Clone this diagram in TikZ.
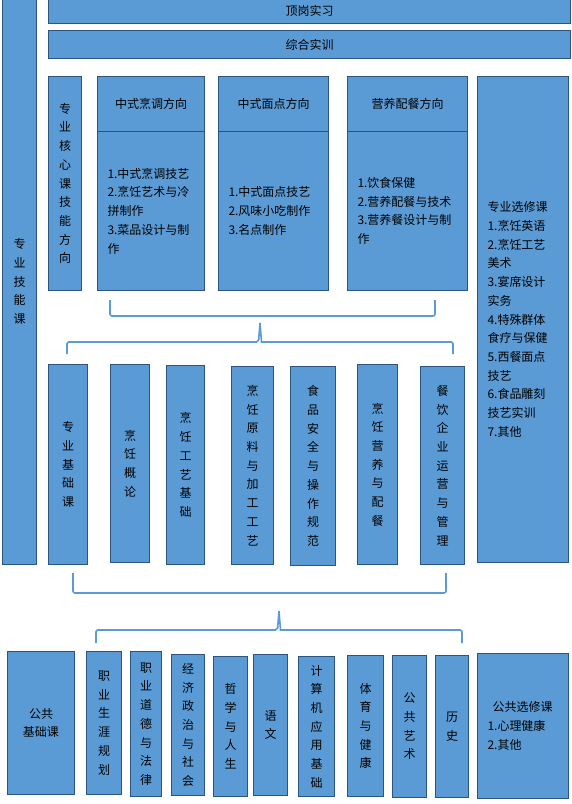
\documentclass[tikz,border=0pt]{standalone}
\usepackage{fontspec}
\newfontfamily\cjk{Noto Sans CJK SC}
\definecolor{boxfill}{HTML}{5B9BD5}
\definecolor{boxline}{HTML}{2C5480}
\definecolor{bracecol}{HTML}{5B9BD5}
\tikzset{
  course/.style={draw=boxline, fill=boxfill, line width=1pt, inner sep=0pt,
    anchor=north west, align=center, font=\cjk\fontsize{12}{18.7}\selectfont},
  cell/.style 2 args={minimum width=#1, minimum height=#2},
  listing/.style={align=left, text width=#1},
  bracket/.style={draw=bracecol, line width=1.6pt, rounded corners=2pt}
}
\begin{document}
\begin{tikzpicture}[x=1pt, y=-1pt]

        \path[use as bounding box, fill=white] (0,0) rectangle (571,804);

        % Left column
        \node[course, cell={34pt}{566pt}] (skill) at (2,-2) {专\\业\\技\\能\\课};

        % Practice bars
        \node[course, cell={522pt}{25pt}] (intern) at (48,-2) {顶岗实习};
        \node[course, cell={522pt}{28pt}] (train) at (48,30) {综合实训};

        % Core directions
        \node[course, cell={33pt}{214pt}] (core) at (48,76) {专\\业\\核\\心\\课\\技\\能\\方\\向};
        \foreach \nm/\xa/\xb/\head/\body in {
            cook/97/204/中式烹调方向/{1.中式烹调技艺\\2.烹饪艺术与冷\\拼制作\\3.菜品设计与制\\作},
            pastry/218/328/中式面点方向/{1.中式面点技艺\\2.风味小吃制作\\3.名点制作},
            diet/347/467/营养配餐方向/{1.饮食保健\\2.营养配餐与技术\\3.营养餐设计与制\\作}} {
            \pgfmathsetmacro\tw{\xb-\xa-20}
            \node[course, cell={(\xb-\xa)*1pt}{55pt}] (\nm-h) at (\xa,76) {\head};
            \node[course, cell={(\xb-\xa)*1pt}{159pt}, listing=\tw pt] (\nm-b) at (\xa,131) {\body};
        }

        % Specialty electives
        \node[course, cell={91pt}{486pt}, listing=71pt] (elect) at (477,76)
            {专业选修课\\1.烹饪英语\\2.烹饪工艺\\美术\\3.宴席设计\\实务\\4.特殊群体\\食疗与保健\\5.西餐面点\\技艺\\6.食品雕刻\\技艺实训\\7.其他};

        % Brackets under the directions
        \draw[bracket] (110,300) -- (110,316) -- (435,316) -- (435,300);
        \draw[bracket] (67,354) -- (67,342) -- (258.5,342) [sharp corners] -- (260,323)
            -- (261.5,342) [rounded corners=2pt] -- (453,342) -- (453,354);

        % Specialty basics
        \foreach \nm/\xa/\ya/\xb/\yb/\txt in {
            base/48/364/87/564/{专\\业\\基\\础\\课},
            intro/110/364/149/562/{烹\\饪\\概\\论},
            craft/166/365/204/564/{烹\\饪\\工\\艺\\基\\础},
            material/231/366/273/564/{烹\\饪\\原\\料\\与\\加\\工\\工\\艺},
            safety/290/366/335/565/{食\\品\\安\\全\\与\\操\\作\\规\\范},
            nutri/357/364/397/564/{烹\\饪\\营\\养\\与\\配\\餐},
            manage/420/366/464/564/{餐\\饮\\企\\业\\运\\营\\与\\管\\理}} {
            \node[course, cell={(\xb-\xa)*1pt}{(\yb-\ya)*1pt}] (\nm) at (\xa,\ya) {\txt};
        }

        % Brackets under the basics
        \draw[bracket] (73,573) -- (73,593) -- (446,593) -- (446,573);
        \draw[bracket] (96,643) -- (96,630) -- (277.5,630) [sharp corners] -- (279,611)
            -- (280.5,630) [rounded corners=2pt] -- (462,630) -- (462,643);

        % Public courses
        \foreach \nm/\xa/\ya/\xb/\yb/\txt in {
            pub/7/651/74/794/{公共\\基础课},
            career/86/651/121/794/{职\\业\\生\\涯\\规\\划},
            ethics/130/651/161/796/{职\\业\\道\\德\\与\\法\\律},
            econ/171/654/204/795/{经\\济\\政\\治\\与\\社\\会},
            philo/213/656/247/796/{哲\\学\\与\\人\\生},
            chinese/253/654/287/795/{语\\文},
            computer/298/656/334/796/{计\\算\\机\\应\\用\\基\\础},
            sport/347/655/383/796/{体\\育\\与\\健\\康},
            art/392/655/426/797/{公\\共\\艺\\术},
            history/435/655/468/797/{历\\史}} {
            \node[course, cell={(\xb-\xa)*1pt}{(\yb-\ya)*1pt}] (\nm) at (\xa,\ya) {\txt};
        }
        \node[course, cell={91pt}{145pt}, listing=71pt] (pubelect) at (477,653)
            {\hspace*{5pt}公共选修课\\1.心理健康\\2.其他};

    \end{tikzpicture}
\end{document}
